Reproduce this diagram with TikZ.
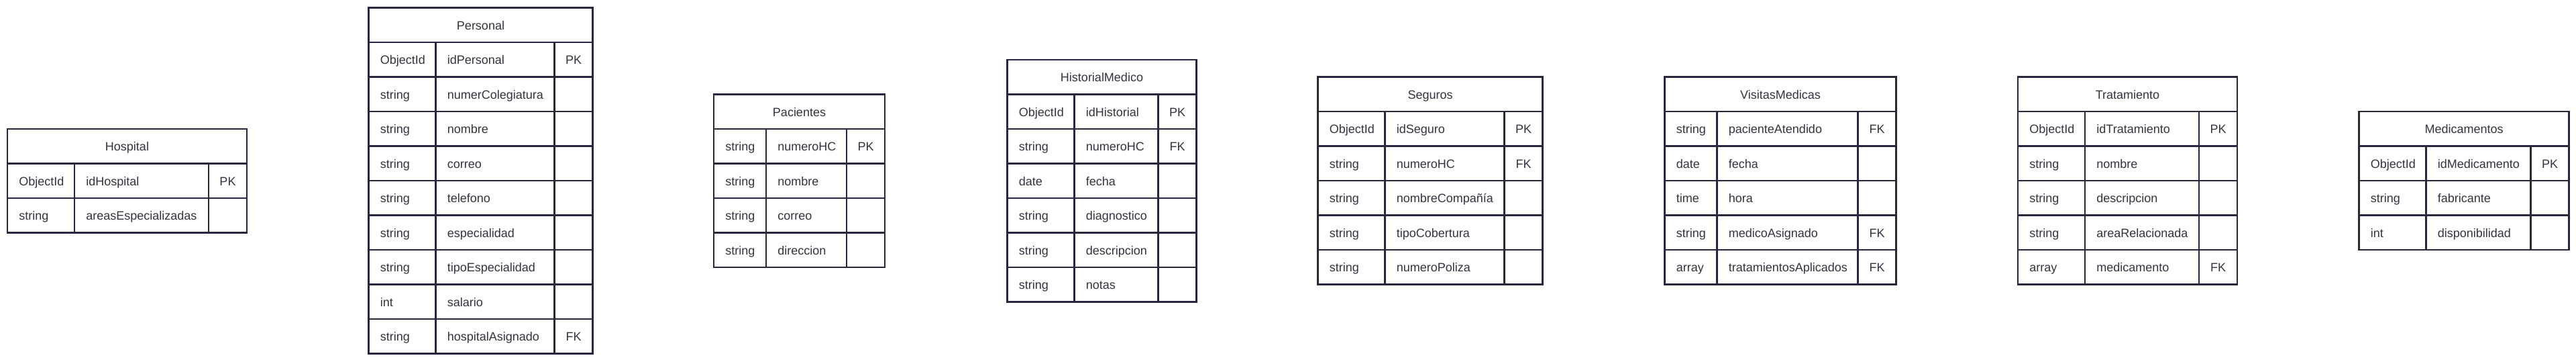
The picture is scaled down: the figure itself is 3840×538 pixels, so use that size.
\documentclass[tikz,border=0pt]{standalone}
\usepackage{fontspec}
\newfontfamily\erfont{Liberation Sans}
\definecolor{erline}{HTML}{28273D}
\definecolor{ertext}{HTML}{333240}

% #1 name, #2 left x, #3 type column, #4 field column, #5 rows, #6 title, #7 type/field/key
\newcommand{\erentity}[7]{%
  \pgfmathsetmacro\ertop{269-(#5+1)*51.5/2}
  \pgfmathsetmacro\erbot{269+(#5+1)*51.5/2}
  \pgfmathsetmacro\erright{#2+#3+#4+57}
  \pgfmathsetmacro\ermid{(#2+\erright)/2}
  % frame and grid
  \draw[erbox] (#2,\ertop) rectangle (\erright,\erbot);
  \foreach \i in {1,...,#5}
    \draw[erbox] (#2,\ertop+\i*51.5) -- (\erright,\ertop+\i*51.5);
  \draw[erbox] (#2+#3,\ertop+51.5) -- (#2+#3,\erbot);
  \draw[erbox] (#2+#3+#4,\ertop+51.5) -- (#2+#3+#4,\erbot);
  % texts
  \node[erhead] (#1) at (\ermid,\ertop+32.75) {#6};
  \foreach \ty/\nm/\ky [count=\i] in {#7} {
    \node[ercell, anchor=base west] (#1-t\i) at (#2+17,\ertop+\i*51.5+32.75) {\ty};
    \node[ercell, anchor=base west] (#1-n\i) at (#2+#3+17,\ertop+\i*51.5+32.75) {\nm};
    \node[ercell, anchor=base] (#1-k\i) at (#2+#3+#4+28.5,\ertop+\i*51.5+32.75) {\ky};
  }
}

\begin{document}
\begin{tikzpicture}[x=0.5pt, y=-0.5pt,
  erbox/.style={draw=erline, line width=1.25pt},
  ercell/.style={inner sep=0pt, text=ertext, font=\erfont\fontsize{9}{10}\selectfont},
  erhead/.style={ercell, anchor=base}]
\useasboundingbox[fill=white] (0,0) rectangle (3840,538);
% entities
\erentity{hospital}{11}{100}{200}{2}{Hospital}
  {ObjectId/idHospital/PK, string/areasEspecializadas/{}}
\erentity{personal}{549.5}{100}{177}{9}{Personal}
  {ObjectId/idPersonal/PK, string/numerColegiatura/{}, string/nombre/{},
   string/correo/{}, string/telefono/{}, string/especialidad/{},
   string/tipoEspecialidad/{}, int/salario/{}, string/hospitalAsignado/FK}
\erentity{pacientes}{1064}{78}{120}{4}{Pacientes}
  {string/numeroHC/PK, string/nombre/{}, string/correo/{}, string/direccion/{}}
\erentity{historial}{1501.5}{100}{125}{6}{HistorialMedico}
  {ObjectId/idHistorial/PK, string/numeroHC/FK, date/fecha/{},
   string/diagnostico/{}, string/descripcion/{}, string/notas/{}}
\erentity{seguros}{1964.5}{100}{178}{5}{Seguros}
  {ObjectId/idSeguro/PK, string/numeroHC/FK, string/nombreCompañía/{},
   string/tipoCobertura/{}, string/numeroPoliza/{}}
\erentity{visitas}{2481.5}{78}{210}{5}{VisitasMedicas}
  {string/pacienteAtendido/FK, date/fecha/{}, time/hora/{},
   string/medicoAsignado/FK, array/tratamientosAplicados/FK}
\erentity{tratamiento}{3008}{100}{170}{5}{Tratamiento}
  {ObjectId/idTratamiento/PK, string/nombre/{}, string/descripcion/{},
   string/areaRelacionada/{}, array/medicamento/FK}
\erentity{medicamentos}{3516.5}{100}{156}{3}{Medicamentos}
  {ObjectId/idMedicamento/PK, string/fabricante/{}, int/disponibilidad/{}}

\end{tikzpicture}
\end{document}
